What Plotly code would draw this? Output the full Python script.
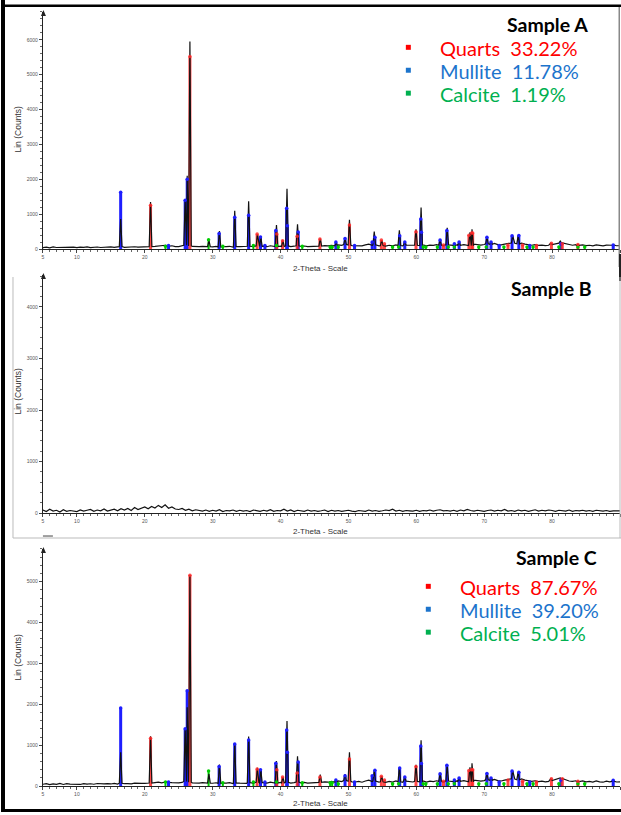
import numpy as np
import plotly.graph_objects as go

W, H = 621, 815

# ---------------- data ----------------
grid_start, grid_step = 5.0, 0.5

base_A = [40, 55, 35, 60, 45, 50, 38, 62, 48, 55,
          42, 58, 47, 65, 40, 52, 60, 45, 57, 50,
          62, 48, 55, 70, 50, 60, 52, 66, 58, 63,
          60, 55, 68, 75, 90, 85, 100, 80, 95, 70,
          72, 85, 110, 90, 75, 65, 70, 80, 62, 70,
          65, 78, 60, 72, 68, 80, 58, 75, 70, 66,
          62, 80, 70, 90, 75, 85, 68, 95, 80, 70,
          85, 75, 90, 70, 82, 95, 75, 88, 70, 80,
          78, 92, 85, 100, 90, 110, 95, 120, 105, 130,
          115, 100, 95, 110, 90, 120, 140, 105, 120, 95,
          100, 85, 110, 95, 120, 100, 90, 115, 105, 95,
          110, 100, 120, 95, 115, 105, 125, 110, 100, 120,
          115, 105, 125, 110, 130, 120, 100, 140, 125, 115,
          130, 150, 140, 160, 130, 120, 140, 150, 175, 165,
          150, 170, 140, 120, 110, 125, 105, 115, 100, 110,
          130, 150, 170, 180, 150, 120, 110, 125, 105, 120,
          100, 110, 95, 120, 100, 90, 115, 100, 110, 95,
          100]

base_B = [60, 30, 75, 40, 55, 20, 65, 35, 50, 45,
          30, 60, 40, 55, 70, 35, 60, 45, 80, 40,
          55, 75, 45, 85, 60, 90, 50, 110, 70, 95,
          120, 85, 130, 100, 150, 110, 160, 95, 120, 80,
          70, 90, 55, 75, 45, 65, 50, 40, 60, 35,
          55, 40, 65, 30, 50, 45, 60, 35, 55, 40,
          50, 30, 60, 45, 35, 55, 40, 65, 35, 50,
          45, 75, 40, 60, 30, 55, 45, 35, 60, 40,
          50, 35, 45, 60, 30, 55, 40, 50, 35, 45,
          55, 40, 30, 50, 45, 35, 60, 40, 50, 35,
          45, 60, 50, 75, 40, 55, 35, 50, 45, 40,
          55, 35, 50, 45, 60, 40, 55, 65, 45, 50,
          40, 55, 35, 60, 45, 70, 50, 40, 55, 45,
          35, 50, 60, 40, 55, 45, 70, 40, 50, 35,
          60, 45, 55, 35, 50, 65, 40, 55, 45, 60,
          50, 35, 55, 45, 40, 60, 35, 50, 45, 55,
          40, 50, 35, 55, 45, 40, 50, 35, 45, 40,
          45]

base_C = [45, 60, 38, 55, 42, 65, 40, 58, 50, 47,
          55, 40, 62, 48, 57, 45, 63, 50, 55, 60,
          52, 66, 48, 70, 58, 62, 55, 72, 60, 65,
          68, 60, 75, 85, 95, 80, 105, 90, 85, 75,
          80, 90, 115, 95, 80, 70, 75, 85, 68, 72,
          70, 82, 65, 75, 72, 85, 62, 78, 73, 70,
          68, 85, 75, 92, 80, 88, 72, 98, 85, 75,
          90, 80, 95, 75, 85, 100, 80, 92, 75, 85,
          82, 95, 90, 105, 95, 115, 100, 125, 110, 135,
          120, 105, 100, 115, 95, 125, 145, 110, 125, 100,
          105, 90, 115, 100, 125, 105, 95, 120, 110, 100,
          115, 105, 125, 100, 120, 110, 130, 115, 105, 125,
          120, 110, 130, 115, 135, 125, 105, 145, 130, 120,
          135, 155, 145, 165, 135, 125, 145, 155, 180, 170,
          155, 175, 145, 125, 115, 130, 110, 120, 105, 115,
          135, 155, 175, 185, 155, 125, 115, 130, 110, 125,
          105, 115, 100, 125, 105, 95, 120, 105, 115, 100,
          105]

# observed (black) peaks
obs_A_pos = [16.45, 20.85, 23.05, 25.95, 26.25, 26.65, 29.45, 31.0, 33.25, 35.3,
             36.6, 37.1, 39.4, 40.35, 40.95, 42.5, 45.85, 48.2, 49.5, 50.15,
             53.8, 54.9, 57.5, 58.3, 59.95, 60.7, 63.5, 64.55, 65.6, 66.3,
             67.9, 68.2, 70.4, 71.0, 74.2, 75.0, 79.8, 81.2, 83.8, 89.0]
obs_A_h = [860, 1350, 110, 1400, 2100, 5950, 250, 520, 1100, 1370,
           420, 330, 690, 250, 1730, 710, 300, 180, 300, 840,
           500, 250, 540, 200, 570, 1190, 260, 610, 150, 200,
           480, 570, 340, 220, 380, 390, 170, 230, 130, 120]

obs_C_pos = obs_A_pos
obs_C_h = [830, 1220, 100, 1400, 1930, 5160, 300, 530, 1050, 1210,
           450, 380, 610, 220, 1590, 730, 280, 150, 290, 830,
           370, 240, 460, 220, 520, 1120, 300, 510, 150, 200,
           460, 560, 310, 200, 370, 340, 180, 200, 120, 140]

# phase sticks
qz_pos = [20.85, 26.65, 36.55, 39.45, 40.3, 42.45, 45.8, 50.15, 54.85, 55.3,
          59.95, 64.0, 67.75, 68.15, 68.3, 73.5, 75.65, 77.7, 79.9, 81.5, 83.8]
qz_A_h = [1260, 5520, 430, 430, 240, 370, 290, 690, 260, 150,
          500, 120, 400, 460, 460, 120, 120, 100, 170, 150, 130]
qz_C_h = [1170, 5160, 420, 400, 220, 320, 220, 660, 240, 150,
          480, 120, 380, 400, 400, 150, 120, 100, 180, 180, 120]

mu_pos = [16.45, 23.5, 25.95, 26.25, 30.95, 33.25, 35.3, 37.05, 37.7, 39.3,
          40.9, 41.0, 42.6, 48.15, 49.5, 50.9, 53.5, 53.9, 57.55, 58.3,
          60.65, 60.75, 63.5, 64.5, 65.6, 66.3, 70.4, 71.0, 72.2, 74.1,
          75.1, 76.7, 81.3, 89.0]
mu_A_h = [1630, 100, 1400, 2000, 450, 910, 970, 350, 100, 530,
          1170, 670, 490, 200, 300, 100, 200, 340, 380, 200,
          860, 480, 260, 530, 150, 200, 340, 200, 100, 380,
          390, 100, 150, 120]
mu_C_h = [1910, 100, 1400, 2330, 480, 1030, 1130, 400, 100, 560,
          1370, 830, 590, 150, 250, 100, 250, 390, 440, 220,
          980, 550, 300, 510, 150, 200, 310, 200, 100, 370,
          340, 100, 150, 140]

ca_pos = [23.05, 29.4, 31.5, 36.0, 39.4, 43.2, 47.3, 47.6, 48.5, 56.5,
          57.4, 61.0, 61.4, 63.1, 64.7, 65.6, 69.2, 70.3, 72.9, 76.3,
          77.2, 81.0, 83.8, 84.8]
ca_A_h = [80, 270, 80, 100, 100, 80, 60, 60, 60, 60,
          60, 60, 60, 60, 60, 60, 60, 60, 60, 60,
          60, 60, 60, 60]
ca_C_h = [100, 370, 80, 100, 100, 80, 80, 80, 60, 60,
          60, 60, 60, 60, 60, 60, 60, 60, 60, 60,
          60, 60, 60, 60]

legend_A = [("Quarts  33.22%", "#ff0000"), ("Mullite  11.78%", "#1c74cc"), ("Calcite  1.19%", "#00b050")]
legend_C = [("Quarts  87.67%", "#ff0000"), ("Mullite  39.20%", "#1c74cc"), ("Calcite  5.01%", "#00b050")]
x_tickvals = [5, 10, 20, 30, 40, 50, 60, 70, 80, 90]

# ---------------- helpers ----------------
def PX(x):
    return x / W

def PY(y):
    return 1 - y / H

def pattern(base, pos, hts, hw=0.2):
    base = np.asarray(base, float)
    gx = grid_start + grid_step * np.arange(len(base))
    pos_a = np.asarray(pos)
    keep = np.array([np.all(np.abs(pos_a - g) > hw) for g in gx])
    pts = list(zip(gx[keep], base[keep]))
    for p, h in zip(pos, hts):
        i = int(round((p - grid_start) / grid_step))
        b = base[i]
        pts += [(p - hw, b), (p, h), (p + hw, b)]
    pts.sort(key=lambda t: t[0])
    return [t[0] for t in pts], [t[1] for t in pts]

def sticks(pos, hts):
    xs, ys = [], []
    for p, h in zip(pos, hts):
        xs += [p, p, None]
        ys += [0, h, None]
    return xs, ys

fig = go.Figure()

panels = [
    dict(base=base_A, obs=(obs_A_pos, obs_A_h), qz=qz_A_h, mu=mu_A_h, ca=ca_A_h,
         yr=6800, y0=250, ytop=12, dtick=1000),
    dict(base=base_B, obs=None, yr=4620, y0=515, ytop=276, dtick=1000),
    dict(base=base_C, obs=(obs_C_pos, obs_C_h), qz=qz_C_h, mu=mu_C_h, ca=ca_C_h,
         yr=5800, y0=789, ytop=551, dtick=1000),
]

col_q = "rgba(255,40,40,0.85)"
col_m = "rgb(30,30,255)"
col_c = "rgb(0,205,0)"

for k, P in enumerate(panels):
    xa = "x" if k == 0 else f"x{k+1}"
    ya = "y" if k == 0 else f"y{k+1}"
    if P["obs"] is not None:
        for pos, hts, col, w in [(ca_pos, P["ca"], col_c, 2),
                                 (mu_pos, P["mu"], col_m, 3),
                                 (qz_pos, P["qz"], col_q, 3)]:
            sx, sy = sticks(pos, hts)
            fig.add_trace(go.Scatter(x=sx, y=sy, mode="lines", line=dict(color=col, width=w),
                                     xaxis=xa, yaxis=ya, showlegend=False, hoverinfo="skip"))
        bx, by = pattern(P["base"], *P["obs"])
    else:
        bx, by = pattern(P["base"], [], [])
    fig.add_trace(go.Scatter(x=bx, y=by, mode="lines", line=dict(color="#111111", width=1.2),
                             xaxis=xa, yaxis=ya, showlegend=False, hoverinfo="skip"))
    if P["obs"] is not None:
        for pos, hts, col in [(ca_pos, P["ca"], col_c), (mu_pos, P["mu"], col_m), (qz_pos, P["qz"], col_q)]:
            fig.add_trace(go.Scatter(x=pos, y=hts, mode="markers",
                                     marker=dict(color=col, size=3.5, symbol="circle"),
                                     xaxis=xa, yaxis=ya, showlegend=False, hoverinfo="skip"))

    xdom = [PX(42), PX(620)]
    ydom = [PY(P["y0"]), PY(P["ytop"])]
    tickfont = dict(family="Liberation Sans", size=5, color="#555555")
    xkey = "xaxis" if k == 0 else f"xaxis{k+1}"
    ykey = "yaxis" if k == 0 else f"yaxis{k+1}"
    fig.layout[xkey] = dict(domain=xdom, range=[5, 90], anchor=ya, showgrid=False, zeroline=False,
                            showline=True, linecolor="#222", linewidth=1.2,
                            tickvals=x_tickvals, ticks="outside", ticklen=3, tickcolor="#444",
                            tickfont=tickfont,
                            minor=dict(dtick=1, ticks="outside", ticklen=2, tickcolor="#666"))
    fig.layout[ykey] = dict(domain=ydom, range=[0, P["yr"]], anchor=xa, showgrid=False, zeroline=False,
                            showline=True, linecolor="#222", linewidth=1.2,
                            dtick=P["dtick"], tick0=0, ticks="outside", ticklen=3, tickcolor="#444",
                            tickfont=tickfont,
                            minor=dict(dtick=200, ticks="outside", ticklen=2, tickcolor="#666"))

# ---------------- annotations ----------------
ann = []
def text(x, y, s, size, color="#333", bold=False, family="Liberation Sans", xanchor="center", angle=0):
    ann.append(dict(x=PX(x), y=PY(y), xref="paper", yref="paper", text=f"<b>{s}</b>" if bold else s,
                    showarrow=False, xanchor=xanchor, yanchor="middle", textangle=angle,
                    font=dict(size=size, color=color, family=family)))

for cy, ty in [(130, 269), (393, 533), (660, 806)]:
    text(17, cy, "Lin (Counts)", 8.5, angle=-90)
    text(320, ty, "2-Theta - Scale", 8)

text(547, 25, "Sample A", 19.5, color="#000", bold=True, family="Lato")
text(551, 290, "Sample B", 19.5, color="#000", bold=True, family="Lato")
text(556, 560, "Sample C", 19.5, color="#000", bold=True, family="Lato")

shapes = []
for (lx, ly, sx), items in [((438, 48, 408), legend_A), ((458, 589, 428), legend_C)]:
    for i, (s, c) in enumerate(items):
        yy = ly + i * 23
        text(lx, yy, s, 20, color=c, family="Lato", xanchor="left")
        shapes.append(dict(type="rect", xref="paper", yref="paper",
                           x0=PX(sx - 2.5), x1=PX(sx + 2.5), y0=PY(yy - 3), y1=PY(yy + 2),
                           fillcolor=c, line=dict(width=0)))

# axis arrows on top of y axes
for ytop in [12, 276, 551]:
    x0 = 42.5
    shapes.append(dict(type="path", xref="paper", yref="paper",
                       path=f"M {PX(x0-2.5)} {PY(ytop+4)} L {PX(x0)} {PY(ytop-2)} L {PX(x0+2.5)} {PY(ytop+4)} Z",
                       fillcolor="#222", line=dict(width=0)))

# frame lines
def rect(x0, y0, x1, y1, color):
    shapes.append(dict(type="rect", xref="paper", yref="paper", x0=PX(x0), x1=PX(x1),
                       y0=PY(y1), y1=PY(y0), fillcolor=color, line=dict(width=0), layer="above"))

rect(0, 0, 4, 815, "#000")
rect(0, 4.5, 621, 7, "#000")
rect(618.5, 7, 620, 268, "#888")
rect(619, 255, 621, 282, "#222")
rect(11.5, 278, 12.5, 540, "#bbb")
rect(12, 539.5, 621, 540.5, "#bbb")
rect(619.5, 278, 620.5, 540, "#bbb")
rect(42, 537.5, 52, 538.5, "#444")
rect(0, 812, 621, 815, "#000")

fig.update_layout(width=W, height=H, margin=dict(l=0, r=0, t=0, b=0),
                  paper_bgcolor="white", plot_bgcolor="white",
                  annotations=ann, shapes=shapes, showlegend=False)

fig.write_html("out.html", config={"displayModeBar": False},
               post_script="document.body.style.margin='0';document.body.style.padding='0';")
